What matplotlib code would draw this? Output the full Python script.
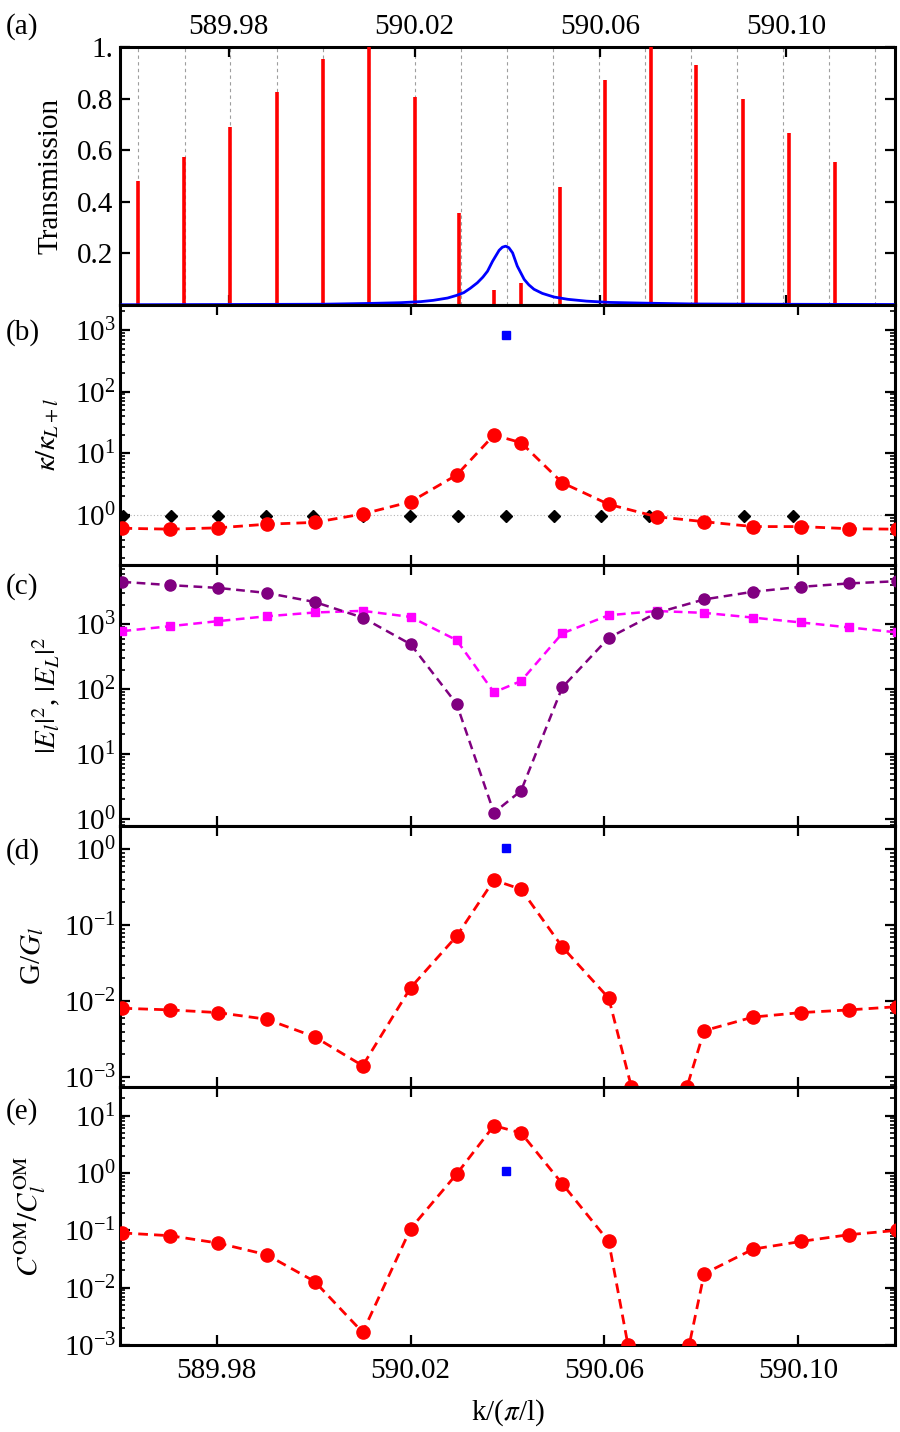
import numpy as np
import matplotlib.pyplot as plt
from matplotlib.ticker import LogLocator, NullFormatter, FixedLocator

plt.rcParams['font.family'] = ['Liberation Serif', 'DejaVu Serif']
plt.rcParams['mathtext.fontset'] = 'stix'
plt.rcParams['font.size'] = 21

# mode positions, k/(pi/l)
k_modes = [589.9605, 589.9704, 589.9802, 589.9903, 590.0002, 590.0101, 590.0200, 590.0295,
           590.0372, 590.0428, 590.0513, 590.0609, 590.0708, 590.0806, 590.0907, 590.1006,
           590.1105, 590.1205]

# (a) transmission peaks (red) and broad resonance (blue)
trans_peaks = [0.48, 0.575, 0.69, 0.825, 0.955, 1.0, 0.807, 0.357, 0.06, 0.086,
               0.457, 0.871, 1.0, 0.929, 0.798, 0.666, 0.554]
blue_k = [589.9570, 589.9800, 590.0000, 590.0100, 590.0170, 590.0213, 590.0240, 590.0271,
          590.0290, 590.0306, 590.0320, 590.0335, 590.0347, 590.0357, 590.0368, 590.0382,
          590.0389, 590.0396, 590.0403, 590.0411, 590.0421, 590.0436, 590.0446, 590.0457,
          590.0475, 590.0500, 590.0530, 590.0570, 590.0620, 590.0700, 590.0800, 590.0950,
          590.1230]
blue_T = [0.001, 0.002, 0.003, 0.006, 0.009, 0.013, 0.018, 0.027,
          0.037, 0.048, 0.065, 0.086, 0.108, 0.131, 0.17, 0.212,
          0.224, 0.228, 0.222, 0.202, 0.151, 0.099, 0.078, 0.061,
          0.045, 0.031, 0.022, 0.015, 0.010, 0.007, 0.004, 0.003,
          0.002]
grid_k = [589.9605, 589.9706, 589.9803, 589.9904, 590.0003, 590.0101, 590.0200, 590.0299,
          590.0398, 590.0497, 590.0596, 590.0697, 590.0794, 590.0893, 590.0994, 590.1093,
          590.1192]

# (b) kappa ratio
kappa_ratio = [0.61, 0.59, 0.62, 0.71, 0.76, 1.04, 1.64, 4.45, 19.8, 14.9,
               3.34, 1.49, 0.94, 0.78, 0.65, 0.65, 0.60, 0.59]
diamond_k = [589.9606, 589.9705, 589.9802, 589.9901, 589.9998, 590.0101, 590.0198, 590.0297,
             590.0396, 590.0495, 590.0594, 590.0693, 590.0889, 590.0990]
diamond_val = [0.95] * len(diamond_k)
blue_k0 = 590.0396
kappa_blue = 830

# (c) field intensities
E_l = [4470, 3980, 3610, 3020, 2190, 1260, 490, 59, 1.25, 2.72,
       106, 615, 1490, 2400, 3150, 3750, 4230, 4580]
E_L = [780, 930, 1110, 1320, 1510, 1600, 1290, 567, 89, 133,
       720, 1370, 1590, 1490, 1260, 1060, 890, 745]

# (d) gain ratio
G_ratio = [0.0081, 0.0077, 0.0071, 0.0058, 0.0034, 0.00142, 0.0151, 0.072, 0.394, 0.298,
           0.052, 0.011, 3.7e-5, 0.0041, 0.0062, 0.0071, 0.0077, 0.0085]
G_blue = 1.03

# (e) cooperativity ratio
C_ratio = [0.090, 0.0805, 0.060, 0.0375, 0.0128, 0.00166, 0.107, 0.96, 6.7, 5.0,
           0.65, 0.064, 2e-6, 0.0175, 0.047, 0.064, 0.084, 0.10]
C_blue = 1.1

xticks = [589.98, 590.02, 590.06, 590.10]
xlim = (589.96, 590.12)
xlim_a = (589.9566, 590.1234)

W, H = 900, 1432
fig = plt.figure(figsize=(W / 100, H / 100), dpi=100)
left, right = 120, 895
edges = [47, 305, 565, 826, 1087, 1345]
axes = []
for i in range(5):
    top, bot = edges[i], edges[i + 1]
    ax = fig.add_axes([left / W, 1 - bot / H, (right - left) / W, (bot - top) / H])
    axes.append(ax)
ax_a, ax_b, ax_c, ax_d, ax_e = axes

dash = (0, (3.5, 2.2))


def mesh_crossings(ax, x, y, ylo, **kw):
    # markers where the joined line leaves the plot range (Mathematica Mesh->All look)
    lx, ly = np.array(x), np.log10(np.array(y))
    l0 = np.log10(ylo)
    for j in range(len(lx) - 1):
        if (ly[j] - l0) * (ly[j + 1] - l0) < 0:
            f = (l0 - ly[j]) / (ly[j + 1] - ly[j])
            ax.plot(lx[j] + f * (lx[j + 1] - lx[j]), ylo, **kw)


def style(ax, log=True):
    for s in ax.spines.values():
        s.set_linewidth(2.2)
    ax.tick_params(which='both', direction='in', top=True, right=True, width=1.6, pad=3)
    ax.tick_params(which='major', length=7)
    ax.tick_params(which='minor', length=3.5, width=1.2)
    if log:
        ax.set_yscale('log')
        ax.yaxis.set_major_locator(LogLocator(base=10, numticks=20))
        ax.yaxis.set_minor_locator(LogLocator(base=10, subs=np.arange(2, 10), numticks=20))
        ax.yaxis.set_minor_formatter(NullFormatter())
    ax.set_xlim(*xlim)
    ax.set_xticks(xticks)
    ax.set_xticklabels(['%.2f' % v for v in xticks])
    ax.tick_params(axis='x', labelbottom=False)


# (a)
ax_a.vlines(grid_k, 0, 1, colors='0.62', linestyles=(0, (3, 3)), lw=0.8, zorder=1)
ax_a.vlines(k_modes[:17], 0, trans_peaks, colors='red', lw=2.6, zorder=3)
ax_a.plot(blue_k, blue_T, color='blue', lw=2, zorder=4)
style(ax_a, log=False)
ax_a.set_xlim(*xlim_a)
ax_a.set_ylim(0, 1.0)
ax_a.yaxis.set_major_locator(FixedLocator([0.2, 0.4, 0.6, 0.8, 1.0]))
ax_a.set_yticklabels(['0.2', '0.4', '0.6', '0.8', '1.'])
ax_a.tick_params(axis='x', labeltop=True, labelbottom=False, pad=5)
ax_a.tick_params(axis='y', pad=5)
ax_a.set_ylabel('Transmission')
ax_a.yaxis.set_label_coords((63 - left) / (right - left), 0.5)

# (b)
style(ax_b)
ax_b.set_ylim(10 ** -0.81, 10 ** 3.405)
ax_b.axhline(1.0, color='0.7', ls=(0, (1, 2)), lw=0.8, zorder=1)
ax_b.plot(diamond_k, diamond_val, 'D', color='black', ms=6.5, zorder=3)
ax_b.plot(k_modes, kappa_ratio, ls=dash, color='red', lw=2, marker='o', ms=9.5, zorder=4)
ax_b.plot([blue_k0], [kappa_blue], 's', color='blue', ms=5.5, zorder=5)
ax_b.set_ylabel(r'$\kappa/\kappa_{L+l}$')
ax_b.yaxis.set_label_coords((60 - left) / (right - left), 0.5)

# (c)
style(ax_c)
ax_c.set_ylim(10 ** -0.108, 10 ** 3.91)
ax_c.plot(k_modes, E_L, ls=dash, color='magenta', lw=1.8, marker='s', ms=6, zorder=3)
ax_c.plot(k_modes, E_l, ls=dash, color='purple', lw=1.8, marker='o', ms=8, zorder=4)
ax_c.set_ylabel(r'$|E_l|^2$, $|E_L|^2$')
ax_c.yaxis.set_label_coords((62 - left) / (right - left), 0.5)

# (d)
style(ax_d)
ylo_d = 10 ** -3.128
ax_d.set_ylim(ylo_d, 10 ** 0.307)
ax_d.plot(k_modes, G_ratio, ls=dash, color='red', lw=2, marker='o', ms=9.5, zorder=4)
mesh_crossings(ax_d, k_modes, G_ratio, ylo_d, marker='o', color='red', ms=9.5, zorder=4)
ax_d.plot([blue_k0], [G_blue], 's', color='blue', ms=5.5, zorder=5)
ax_d.set_ylabel(r'G/$G_l$')
ax_d.yaxis.set_label_coords((46 - left) / (right - left), 0.5)

# (e)
style(ax_e)
ylo_e = 1e-3
ax_e.set_ylim(ylo_e, 10 ** 1.5)
ax_e.plot(k_modes, C_ratio, ls=dash, color='red', lw=2, marker='o', ms=9.5, zorder=4)
mesh_crossings(ax_e, k_modes, C_ratio, ylo_e, marker='o', color='red', ms=9.5, zorder=4)
ax_e.plot([blue_k0], [C_blue], 's', color='blue', ms=5.5, zorder=5)
ax_e.set_ylabel(r'$C^{\rm OM}/C_l^{\rm OM}$')
ax_e.yaxis.set_label_coords((48 - left) / (right - left), 0.5)
ax_e.tick_params(axis='x', labelbottom=True, pad=9)
ax_e.set_xlabel(r'k/($\pi$/l)', labelpad=10)

for lab, yc in zip(['(a)', '(b)', '(c)', '(d)', '(e)'], [27, 333, 587, 852, 1112]):
    fig.text(6 / W, 1 - yc / H, lab, ha='left', va='center', fontsize=21)

fig.savefig('out.png', dpi=100)
